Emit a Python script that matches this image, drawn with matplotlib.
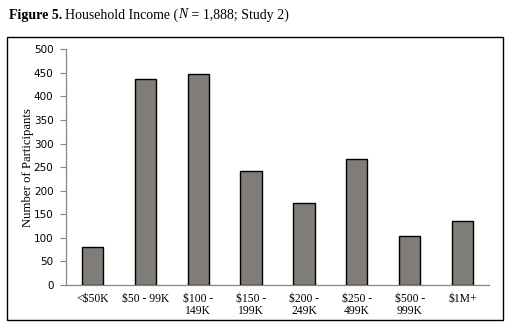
import matplotlib
matplotlib.use("Agg")
import matplotlib.pyplot as plt
from matplotlib.patches import Rectangle

categories = ["<$50K", "$50 - 99K", "$100 -\n149K", "$150 -\n199K", "$200 -\n249K",
              "$250 -\n499K", "$500 -\n999K", "$1M+"]
values = [80, 438, 447, 241, 175, 267, 103, 135]
yticks = [0, 50, 100, 150, 200, 250, 300, 350, 400, 450, 500]

serif = "Liberation Serif"

fig = plt.figure(figsize=(5.08, 3.32), dpi=100)
ax = fig.add_axes([66/508, 1-285/332, (489-66)/508, (285-49.3)/332])

x = list(range(len(categories)))
ax.bar(x, values, width=0.4, color="#807d78", edgecolor="black", linewidth=1.0, zorder=3)
ax.set_xlim(-0.5, len(categories) - 0.5)
ax.set_ylim(0, 500)
ax.set_yticks(yticks)
ax.set_xticks(x)
ax.set_xticklabels(categories, fontfamily=serif, fontsize=8.4, linespacing=1.0)
ax.tick_params(axis="x", length=0, pad=6)
ax.tick_params(axis="y", length=4, width=0.8, color="#868686", pad=5, labelsize=7.5)
for lab in ax.get_yticklabels():
    lab.set_fontfamily("DejaVu Sans")
ax.spines["top"].set_visible(False)
ax.spines["right"].set_visible(False)
ax.spines["left"].set_color("#868686")
ax.spines["bottom"].set_color("#868686")
ax.spines["left"].set_linewidth(0.9)
ax.spines["bottom"].set_linewidth(0.9)
ax.set_ylabel("Number of Participants", fontfamily=serif, fontsize=9.2, labelpad=-0.5)

# outer frame box
fig.patches.append(Rectangle((7/508, 1-320/332), (503-7)/508, (320-37)/332,
                             transform=fig.transFigure, fill=False,
                             edgecolor="black", linewidth=1.0))

# title built from pieces
pieces = [("Figure 5.", "bold", "normal", 3),
          ("Household Income (", "normal", "normal", 0),
          ("N", "normal", "italic", 0),
          (" = 1,888; Study 2)", "normal", "normal", 0)]
fig.canvas.draw()
r = fig.canvas.get_renderer()
xpos = 9.0
for txt, w, st, gap in pieces:
    t = fig.text(xpos/508, 1-18.5/332, txt, fontfamily=serif, fontweight=w,
                 fontstyle=st, fontsize=10.0, va="baseline", ha="left")
    bb = t.get_window_extent(r)
    xpos = bb.x1 + gap

fig.savefig("out.png", dpi=100)
